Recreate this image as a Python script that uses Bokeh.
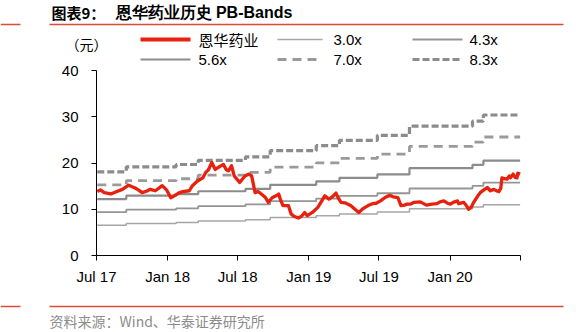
import pandas as pd
from bokeh.plotting import figure
from bokeh.models import FixedTicker, Range1d, ColumnDataSource, Label, Arrow
from bokeh.embed import file_html
from bokeh.resources import INLINE

# ---------------- data ----------------
price_dates = [
    "2017-07-03", "2017-07-11", "2017-07-21", "2017-08-07", "2017-08-21", "2017-09-06", "2017-09-22",
    "2017-10-09", "2017-10-17", "2017-10-27", "2017-11-07", "2017-11-17", "2017-11-30", "2017-12-18",
    "2017-12-29", "2018-01-09", "2018-01-18", "2018-01-29", "2018-02-09", "2018-02-26", "2018-03-06",
    "2018-03-19", "2018-04-02", "2018-04-09", "2018-04-16", "2018-04-25", "2018-05-04", "2018-05-15",
    "2018-05-25", "2018-06-01", "2018-06-07", "2018-06-15", "2018-06-22", "2018-07-06", "2018-07-20",
    "2018-07-30", "2018-08-06", "2018-08-15", "2018-08-23", "2018-08-31", "2018-09-10", "2018-09-18",
    "2018-09-28", "2018-10-08", "2018-10-15", "2018-10-19", "2018-10-26", "2018-11-09", "2018-11-16",
    "2018-11-23", "2018-12-05", "2018-12-13", "2018-12-21", "2018-12-28", "2019-01-10", "2019-01-24",
    "2019-02-01", "2019-02-11", "2019-02-22", "2019-03-04", "2019-03-12", "2019-03-18", "2019-03-25",
    "2019-04-04", "2019-04-19", "2019-04-30", "2019-05-10", "2019-05-22", "2019-06-03", "2019-06-14",
    "2019-06-24", "2019-07-05", "2019-07-18", "2019-07-29", "2019-08-07", "2019-08-19", "2019-08-27",
    "2019-09-05", "2019-09-12", "2019-09-20", "2019-09-30", "2019-10-16", "2019-11-01", "2019-11-15",
    "2019-11-28", "2019-12-06", "2019-12-16", "2019-12-25", "2020-01-02", "2020-01-09", "2020-01-20",
    "2020-01-23", "2020-02-05", "2020-02-12", "2020-02-18", "2020-02-25", "2020-03-02", "2020-03-12",
    "2020-03-19", "2020-03-30", "2020-04-06", "2020-04-14", "2020-04-23", "2020-04-30", "2020-05-06",
    "2020-05-11", "2020-05-14", "2020-05-20", "2020-05-27", "2020-06-02", "2020-06-05", "2020-06-12",
    "2020-06-17", "2020-06-22", "2020-06-24", "2020-06-30",
]
price_values = [
    13.8, 14.2, 13.6, 13.3, 13.8, 14.3, 15.2,
    14.6, 14.2, 13.6, 13.9, 14.3, 14.0, 15.1,
    14.2, 12.5, 12.9, 13.5, 13.8, 14.0, 15.1,
    16.1, 16.8, 17.9, 18.5, 20.1, 18.6, 19.2,
    19.7, 18.6, 18.3, 19.4, 17.2, 15.8, 17.2,
    17.6, 17.2, 13.6, 13.8, 13.3, 12.6, 11.5,
    12.5, 12.9, 13.3, 12.2, 10.8, 10.8, 9.0,
    8.5, 8.1, 8.5, 9.3, 8.6, 9.3, 10.4,
    11.5, 12.9, 12.2, 12.8, 13.5, 12.4, 11.5,
    11.4, 10.8, 10.0, 9.3, 10.2, 10.8, 11.2,
    11.3, 11.8, 12.6, 13.0, 12.7, 12.5, 10.8,
    10.9, 11.1, 11.1, 11.5, 11.6, 10.9, 11.1,
    11.2, 11.6, 11.8, 11.3, 11.1, 11.5, 11.8,
    11.2, 11.5, 10.8, 10.0, 10.5, 11.5, 12.8,
    13.6, 14.3, 14.7, 14.0, 14.3, 14.0, 13.8,
    14.5, 16.8, 16.6, 16.5, 17.2, 16.8, 17.6,
    16.9, 16.8, 17.8, 17.6,
]

# book value per share, stepping at report dates
bvps_dates = ["2017-07-03", "2017-09-16", "2018-01-23", "2018-03-21", "2018-07-21", "2018-09-23",
              "2019-01-20", "2019-03-21", "2019-06-27", "2019-09-18", "2020-02-28", "2020-03-27"]
bvps_values = [2.18, 2.31, 2.37, 2.48, 2.57, 2.73, 2.86, 3.00, 3.13, 3.37, 3.50, 3.66]
bvps_end_date = "2020-06-30"

band_multiples = [3.0, 4.3, 5.6, 7.0, 8.3]
band_labels = ["3.0x", "4.3x", "5.6x", "7.0x", "8.3x"]
series_name = "恩华药业"

x_tick_dates = ["2017-07-01", "2018-01-01", "2018-07-01", "2019-01-01", "2019-07-01", "2020-01-01", "2020-07-01"]
x_tick_labels = ["Jul 17", "Jan 18", "Jul 18", "Jan 19", "Jul 19", "Jan 20", ""]
y_ticks = [0, 10, 20, 30, 40]

title_prefix = "图表9："
title_text = "恩华药业历史 PB-Bands"
unit_text = "（元）"
source_text = "资料来源：Wind、华泰证券研究所"

# ---------------- layout constants ----------------
W, H = 576, 332
FL, FR, FT, FB = 96, 520, 70, 255     # plot area in canvas pixels
RULE = "#DC4B37"
RED = "#E8200E"
LATIN = "Liberation Sans"
CJK = "Noto Sans CJK SC"

band_styles = [
    dict(line_color="#A6A6A6", line_width=1.5, line_dash="solid"),
    dict(line_color="#959595", line_width=1.8, line_dash="solid"),
    dict(line_color="#8C8C8C", line_width=2.2, line_dash="solid"),
    dict(line_color="#9A9A9A", line_width=2.8, line_dash="9 6"),
    dict(line_color="#8C8C8C", line_width=3.2, line_dash="7 3"),
]


def ms(d):
    return pd.Timestamp(d).value / 1e6


t0, t1 = ms(x_tick_dates[0]), ms(x_tick_dates[-1])
y0, y1 = y_ticks[0], y_ticks[-1]
px_t = (t1 - t0) / (FR - FL)
px_y = (y1 - y0) / (FB - FT)
x_range = Range1d(t0 - FL * px_t, t1 + (W - FR) * px_t)
y_range = Range1d(y0 - (H - FB) * px_y, y1 + FT * px_y)

p = figure(width=W, height=H, x_axis_type="datetime", output_backend="svg", toolbar_location=None,
           x_range=x_range, y_range=y_range, min_border=0)
p.outline_line_color = None
p.xgrid.visible = False
p.ygrid.visible = False
p.background_fill_color = "white"
p.border_fill_color = "white"

# bands
step_x = [pd.Timestamp(d) for d in bvps_dates] + [pd.Timestamp(bvps_end_date)]
for m, st in zip(band_multiples, band_styles):
    ys = [b * m for b in bvps_values] + [bvps_values[-1] * m]
    src = ColumnDataSource(dict(x=step_x, y=ys))
    p.step(x="x", y="y", source=src, mode="after", **st)

# price
price_src = ColumnDataSource(dict(x=[pd.Timestamp(d) for d in price_dates], y=price_values))
p.line(x="x", y="y", source=price_src, line_color=RED, line_width=3.3, line_join="round")

# axes drawn at fixed data locations
xa, ya = p.xaxis[0], p.yaxis[0]
xa.fixed_location = y0
ya.fixed_location = t0
xa.bounds = (t0, t1)
ya.bounds = (y0, y1)
for ax in (xa, ya):
    ax.axis_line_color = "black"
    ax.axis_line_width = 1
    ax.major_tick_line_color = "black"
    ax.major_tick_out = 5
    ax.major_tick_in = 0
    ax.minor_tick_out = 0
    ax.minor_tick_in = 0
    ax.major_label_text_font = LATIN
    ax.major_label_text_font_size = "15px"
    ax.major_label_text_color = "black"

tick_ms = [ms(d) for d in x_tick_dates]
xa.ticker = FixedTicker(ticks=tick_ms)
xa.major_label_overrides = {t: lab for t, lab in zip(tick_ms, x_tick_labels)}
xa.major_label_standoff = 7
ya.ticker = FixedTicker(ticks=y_ticks)
ya.major_label_standoff = 13


# ---------------- header / legend / footer (canvas pixels, top-left origin) ----------------
def sx(px):
    return px


def sy(py):
    return H - py


def add_label(px, py, text, size, color="black", style="normal", font=LATIN):
    p.add_layout(Label(x=sx(px), y=sy(py), x_units="screen", y_units="screen", text=text,
                       text_font=font, text_font_size=size, text_color=color, text_font_style=style,
                       text_align="left", text_baseline="middle"))


def add_line(x0, x1, py, color, width, dash="solid"):
    p.add_layout(Arrow(start=None, end=None, x_start=sx(x0), y_start=sy(py), x_end=sx(x1), y_end=sy(py),
                       start_units="screen", end_units="screen", line_color=color, line_width=width,
                       line_dash=dash))


add_line(0, 20, 24, RULE, 1.3)
add_line(49, 563, 24, RULE, 1.3)
add_line(0, 20, 306, RULE, 1.3)
add_line(49, 563, 306, RULE, 1.3)

add_label(51, 12, title_prefix, "15px", style="bold", font=CJK)
add_label(115, 12, title_text, "16px", style="bold", font=LATIN)
add_label(65, 43, unit_text, "14px", font=CJK)
add_label(49, 320, source_text, "14px", color="#8C8C8C", font=CJK)

legend_cols = [(140, 190, 198), (277, 322, 333), (412, 462, 469)]
legend_rows = [39, 59]
entries = [(series_name, dict(line_color=RED, line_width=4, line_dash="solid"))] + \
          list(zip(band_labels, band_styles))
for i, (lab, st) in enumerate(entries):
    r, c = divmod(i, 3)
    x0, x1, xl = legend_cols[c]
    yy = legend_rows[r]
    add_line(x0, x1, yy, st["line_color"], st["line_width"], st["line_dash"])
    add_label(xl, yy, lab, "15px", font=CJK if i == 0 else LATIN)

open("out.html", "w").write(file_html(p, INLINE))
